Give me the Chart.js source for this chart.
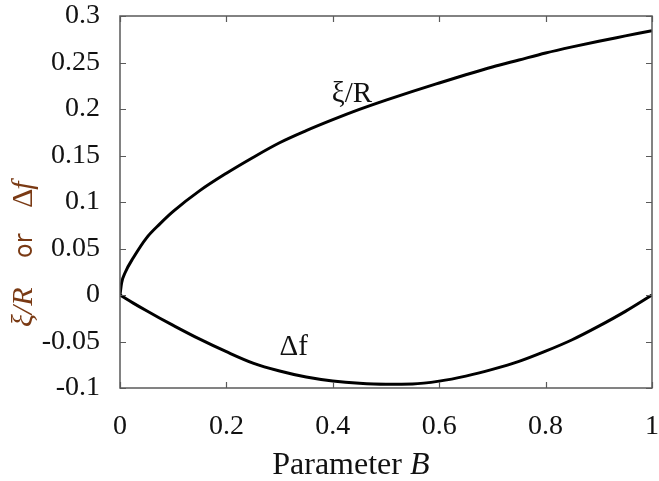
<!DOCTYPE html>
<html>
<head>
<meta charset="utf-8">
<script src="https://cdn.jsdelivr.net/npm/chart.js@4.4.1/dist/chart.umd.min.js"></script>
<style>
html,body{margin:0;padding:0;background:#fff;}
#wrap{width:659px;height:481px;position:relative;}
</style>
</head>
<body>
<div id="wrap"><canvas id="c" width="659" height="481"></canvas></div>
<script>
// Parameter B sample points
const paramB = [0, 0.003, 0.01, 0.025, 0.05, 0.075, 0.1, 0.15, 0.2, 0.25, 0.3, 0.35, 0.4, 0.45, 0.5, 0.55, 0.6, 0.65, 0.7, 0.75, 0.8, 0.85, 0.9, 0.95, 1.0];
// xi/R curve
const xiOverR = [0, 0.013, 0.0245, 0.040, 0.0615, 0.0765, 0.0899, 0.1122, 0.1309, 0.1479, 0.1637, 0.1767, 0.1885, 0.1995, 0.2095, 0.2190, 0.2280, 0.2368, 0.2452, 0.2527, 0.2602, 0.2668, 0.2729, 0.2786, 0.2843];
// Delta f curve
const deltaF = [0, -0.001, -0.0035, -0.0087, -0.0170, -0.0250, -0.0327, -0.0475, -0.0610, -0.0732, -0.0817, -0.0882, -0.0925, -0.0950, -0.0960, -0.0957, -0.0926, -0.0872, -0.0800, -0.0714, -0.0604, -0.0481, -0.0335, -0.0176, 0];
// tick labels
const xTicks = [0, 0.2, 0.4, 0.6, 0.8, 1];
const yTicks = [-0.1, -0.05, 0, 0.05, 0.1, 0.15, 0.2, 0.25, 0.3];
const xTickLabels = ['0', '0.2', '0.4', '0.6', '0.8', '1'];
const yTickLabels = ['-0.1', '-0.05', '0', '0.05', '0.1', '0.15', '0.2', '0.25', '0.3'];
// curve labels (data coordinates)
const curveLabels = [
  {text: 'ξ/R', x: 0.398, y: 0.2075},
  {text: 'Δf', x: 0.30, y: -0.0645}
];
const xTitle = 'Parameter ';
const xTitleVar = 'B';

const serif = '"Liberation Serif", "DejaVu Serif", serif';

const pts = (ys) => paramB.map((b, i) => ({x: b, y: ys[i]}));

const zeroPad = (s) => { s.paddingTop = 0; s.paddingBottom = 0; s.paddingLeft = 0; s.paddingRight = 0; };

const framePlugin = {
  id: 'frame',
  afterDatasetsDraw(chart) {
    const ctx = chart.ctx, a = chart.chartArea;
    const xs = chart.scales.x, ys = chart.scales.y;
    ctx.save();
    ctx.strokeStyle = '#5a5a5a';
    ctx.lineWidth = 1.5;
    ctx.strokeRect(a.left, a.top, a.right - a.left, a.bottom - a.top);
    ctx.lineWidth = 1.2;
    const tl = 6;
    ctx.beginPath();
    xTicks.forEach(v => {
      const px = Math.round(xs.getPixelForValue(v)) + 0.5;
      ctx.moveTo(px, a.bottom); ctx.lineTo(px, a.bottom - tl);
      ctx.moveTo(px, a.top); ctx.lineTo(px, a.top + tl);
    });
    yTicks.forEach(v => {
      const py = Math.round(ys.getPixelForValue(v)) + 0.5;
      ctx.moveTo(a.left, py); ctx.lineTo(a.left + tl, py);
      ctx.moveTo(a.right, py); ctx.lineTo(a.right - tl, py);
    });
    ctx.stroke();
    // curve labels
    ctx.fillStyle = '#111';
    ctx.font = '29px ' + serif;
    ctx.textAlign = 'left';
    ctx.textBaseline = 'alphabetic';
    curveLabels.forEach(l => {
      ctx.fillText(l.text, xs.getPixelForValue(l.x), ys.getPixelForValue(l.y));
    });
    // x title
    ctx.fillStyle = '#111';
    const tf = '32px ' + serif, tfi = 'italic 32px ' + serif;
    ctx.font = tf;
    const w1 = ctx.measureText(xTitle).width;
    ctx.font = tfi;
    const w2 = ctx.measureText(xTitleVar).width;
    const cx = a.left + 0.434 * (a.right - a.left);
    const startX = cx - (w1 + w2) / 2;
    ctx.font = tf;
    ctx.fillText(xTitle, startX, 474);
    ctx.font = tfi;
    ctx.fillText(xTitleVar, startX + w1, 474);
    // y title (rotated), fragments placed by their start (bottom) y
    ctx.fillStyle = '#7a3a14';
    const frags = [
      {t: 'ξ/R', f: 'italic 30px ' + serif, s: 327},
      {t: 'or', f: '24px "DejaVu Sans", sans-serif', s: 258},
      {t: 'Δ', f: '30px ' + serif, s: 208},
      {t: 'f', f: 'italic 30px ' + serif, s: null}
    ];
    let prevEnd = 0;
    frags.forEach(fr => {
      ctx.save();
      ctx.font = fr.f;
      const w = ctx.measureText(fr.t).width;
      const start = fr.s !== null ? fr.s : prevEnd + 1;
      ctx.translate(32, start);
      ctx.rotate(-Math.PI / 2);
      ctx.textAlign = 'left';
      ctx.fillText(fr.t, 0, 0);
      ctx.restore();
      prevEnd = start - w;
    });
    ctx.restore();
  }
};

new Chart(document.getElementById('c'), {
  type: 'line',
  data: {
    datasets: [
      {label: 'ξ/R', data: pts(xiOverR), borderColor: '#000', borderWidth: 3, pointRadius: 0, cubicInterpolationMode: 'monotone', fill: false},
      {label: 'Δf', data: pts(deltaF), borderColor: '#000', borderWidth: 3, pointRadius: 0, cubicInterpolationMode: 'monotone', fill: false}
    ]
  },
  options: {
    responsive: false,
    animation: false,
    layout: {padding: {top: 16, right: 7, left: 0, bottom: 0}},
    plugins: {legend: {display: false}, tooltip: {enabled: false}},
    scales: {
      x: {
        type: 'linear', min: 0, max: 1,
        afterFit: s => { s.height = 93; zeroPad(s); },
        afterBuildTicks: s => { s.ticks = xTicks.map(v => ({value: v})); },
        grid: {display: false, drawTicks: false},
        border: {display: false},
        ticks: {
          padding: 22, color: '#111',
          font: {family: serif, size: 28},
          callback: (v) => { const i = xTicks.indexOf(v); return i >= 0 ? xTickLabels[i] : ''; },
          maxRotation: 0, autoSkip: false
        }
      },
      y: {
        type: 'linear', min: -0.1, max: 0.3,
        afterFit: s => { s.width = 120; zeroPad(s); },
        afterBuildTicks: s => { s.ticks = yTicks.map(v => ({value: v})); },
        grid: {display: false, drawTicks: false},
        border: {display: false},
        ticks: {
          padding: 20, color: '#111',
          font: {family: serif, size: 28},
          callback: (v) => { const i = yTicks.findIndex(t => Math.abs(t - v) < 1e-9); return i >= 0 ? yTickLabels[i] : ''; },
          autoSkip: false
        }
      }
    }
  },
  plugins: [framePlugin]
});
</script>
</body>
</html>
